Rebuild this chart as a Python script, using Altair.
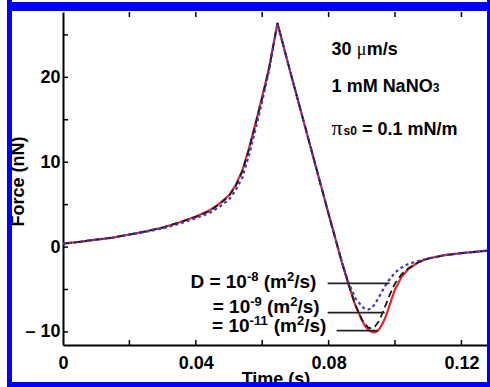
import altair as alt
import pandas as pd

# ---------------- data ----------------
t_red = [0, 0.005, 0.01, 0.015, 0.02, 0.025, 0.03, 0.035, 0.04, 0.044, 0.047, 0.05, 0.052,
         0.054, 0.056, 0.058, 0.060, 0.062, 0.0646, 0.068, 0.072, 0.076, 0.080, 0.084, 0.086,
         0.088, 0.090, 0.091, 0.092, 0.093, 0.094, 0.095, 0.096, 0.097, 0.098, 0.099, 0.100,
         0.102, 0.104, 0.107, 0.110, 0.115, 0.120, 0.128]
f_red = [0.4, 0.62, 0.88, 1.12, 1.48, 1.85, 2.3, 2.9, 3.6, 4.3, 5.1, 6.1, 7.3,
         9.0, 11.6, 14.6, 17.7, 21.0, 26.4, 21.3, 15.5, 9.7, 3.9, -1.8, -4.4,
         -6.8, -8.6, -9.3, -9.75, -10.0, -10.05, -9.8, -9.2, -8.4, -7.3, -6.1, -5.0,
         -3.5, -2.6, -1.8, -1.35, -0.95, -0.72, -0.42]

t_black = [0, 0.005, 0.01, 0.015, 0.02, 0.025, 0.03, 0.035, 0.04, 0.044, 0.047, 0.05, 0.052,
           0.054, 0.056, 0.058, 0.060, 0.062, 0.0646, 0.068, 0.072, 0.076, 0.080, 0.084, 0.086,
           0.088, 0.090, 0.091, 0.092, 0.093, 0.094, 0.095, 0.096, 0.097, 0.098, 0.099, 0.100,
           0.102, 0.104, 0.107, 0.110, 0.115, 0.120, 0.128]
f_black = [0.4, 0.62, 0.88, 1.12, 1.48, 1.85, 2.3, 2.9, 3.55, 4.2, 5.0, 6.0, 7.2,
           8.9, 11.5, 14.5, 17.6, 20.9, 26.4, 21.3, 15.5, 9.7, 3.9, -1.8, -4.4,
           -6.8, -8.5, -9.1, -9.5, -9.6, -9.35, -8.8, -8.0, -7.0, -6.0, -5.1, -4.3,
           -3.2, -2.5, -1.8, -1.35, -0.95, -0.72, -0.42]

t_blue = [0, 0.005, 0.01, 0.015, 0.02, 0.025, 0.03, 0.035, 0.04, 0.044, 0.047, 0.05, 0.052,
          0.054, 0.056, 0.058, 0.060, 0.062, 0.0646, 0.068, 0.072, 0.076, 0.080, 0.084, 0.086,
          0.088, 0.090, 0.091, 0.092, 0.093, 0.094, 0.095, 0.096, 0.097, 0.098, 0.100,
          0.102, 0.104, 0.107, 0.110, 0.115, 0.120, 0.128]
f_blue = [0.4, 0.62, 0.88, 1.12, 1.45, 1.8, 2.2, 2.75, 3.4, 4.0, 4.7, 5.6, 6.7,
          8.2, 10.8, 13.9, 17.2, 20.7, 26.3, 21.3, 15.5, 9.7, 3.9, -1.8, -4.2,
          -6.0, -7.0, -7.3, -7.35, -7.2, -6.7, -6.0, -5.3, -4.6, -4.0, -3.0,
          -2.4, -2.0, -1.65, -1.35, -0.95, -0.72, -0.42]

x_tick_labels = [0, 0.04, 0.08, 0.12]
x_minor_ticks = [0.02, 0.04, 0.06, 0.08, 0.10, 0.12]
y_tick_labels = [-10, 0, 10, 20]
y_minor_ticks = [-10, -5, 0, 5, 10, 15, 20, 25]

# legend (D values) rows: text anchor (right edge) and leader lines
legend_exp = ["-8", "-9", "-11"]
legend_lead = ["D = 10", "= 10", "= 10"]
legend_text_t = [0.0763, 0.0773, 0.0793]
legend_text_f = [-4.86, -7.80, -9.97]
leader_t0 = [0.0797, 0.0797, 0.0824]
leader_t1 = [0.0984, 0.0969, 0.0948]
leader_f = [-4.27, -7.73, -9.85]

# top-right annotations
ann_t = 0.0809
ann_f = [22.64, 18.28, 13.2]

# ---------------- layout ----------------
W, H = 425, 333
XMAX = 0.128
YMIN, YMAX = -11.54, 27.70
FONT = "Liberation Sans"
xs = alt.Scale(domain=[0, XMAX], nice=False, zero=False)
ys = alt.Scale(domain=[YMIN, YMAX], nice=False, zero=False)

AW = {' ': 278, '(': 333, ')': 333, '/': 278, '-': 333, '=': 584, '.': 278,
      'D': 722, 'm': 889, 's': 556, 'N': 722, 'M': 833, 'a': 556, 'O': 778}


def tw(s, size):
    return sum(AW.get(c, 556) for c in s) / 1000.0 * size


axis_x = alt.Axis(values=x_tick_labels, grid=False, tickSize=0, domainColor="black",
                  domainWidth=2, labelFont=FONT, labelFontWeight="bold", labelFontSize=18,
                  labelColor="black", labelPadding=9, labelFlush=False,
                  labelExpr="datum.value == 0 ? '0' : format(datum.value, '.2f')",
                  title="Time (s)", titleFont=FONT, titleFontWeight="bold", titleFontSize=18,
                  titleColor="black", titleX=W / 2, titleY=39, titleBaseline="alphabetic",
                  titleAlign="center")
axis_y = alt.Axis(values=y_tick_labels, grid=False, tickSize=0, domainColor="black",
                  domainWidth=2, labelFont=FONT, labelFontWeight="bold", labelFontSize=18,
                  labelColor="black", labelPadding=3, labelFlush=False,
                  labelExpr="datum.value < 0 ? '\u2013 ' + format(-datum.value, 'd') : format(datum.value, 'd')",
                  title="Force (nN)", titleFont=FONT, titleFontWeight="bold", titleFontSize=18,
                  titleColor="black", titleAngle=270, titleX=-40, titleY=169,
                  titleBaseline="alphabetic", titleAlign="center")

X = lambda f: alt.X(f, scale=xs, axis=axis_x)
Y = lambda f: alt.Y(f, scale=ys, axis=axis_y)


def curve(ts, fs, **kw):
    return alt.Chart(pd.DataFrame({"t": ts, "F": fs})).mark_line(**kw).encode(
        x=X("t:Q"), y=Y("F:Q"), order="t:Q")


red = curve(t_red, f_red, color="#e3242e", strokeWidth=2.2)
black = curve(t_black, f_black, color="#1a1a1a", strokeWidth=1.8, strokeDash=[7, 4])
blue = curve(t_blue, f_blue, color="#3c3cb4", strokeWidth=2.2, strokeDash=[3, 3])

# inward ticks
yt = alt.Chart(pd.DataFrame({"F": y_minor_ticks})).mark_rule(color="black", strokeWidth=1.5).encode(
    y=Y("F:Q"), x=alt.value(0), x2=alt.value(5))
xtb = alt.Chart(pd.DataFrame({"t": x_minor_ticks})).mark_rule(color="black", strokeWidth=1.5).encode(
    x=X("t:Q"), y=alt.value(H), y2=alt.value(H - 5))
xtt = alt.Chart(pd.DataFrame({"t": x_minor_ticks})).mark_rule(color="black", strokeWidth=1.5).encode(
    x=X("t:Q"), y=alt.value(0), y2=alt.value(5))

layers = [red, black, blue, yt, xtb, xtt]

# leader lines
lead_df = pd.DataFrame({"t": leader_t0, "t1": leader_t1, "F": leader_f})
layers.append(alt.Chart(lead_df).mark_rule(color="#222222", strokeWidth=1.8).encode(
    x=X("t:Q"), x2="t1:Q", y=Y("F:Q")))


def text_pieces(t, f, pieces, right_align=False):
    """pieces: (text, size, font, weight, dy, advance override or None)"""
    total = sum(p[5] if p[5] is not None else tw(p[0], p[1]) for p in pieces)
    off = -total if right_align else 0.0
    out = []
    src = pd.DataFrame({"t": [t], "F": [f]})
    for txt, size, font, weight, dy, adv in pieces:
        stripped = txt.lstrip(" ")
        lead = (len(txt) - len(stripped)) * 0.278 * size
        out.append(alt.Chart(src).mark_text(
            text=stripped, align="left", baseline="alphabetic", dx=off + lead, dy=dy,
            fontSize=size, font=font, fontWeight=weight, color="black").encode(
            x=X("t:Q"), y=Y("F:Q")))
        off += adv if adv is not None else tw(txt, size)
    return out


MAIN, SUP = 19, 13
for lead, ex, t, f in zip(legend_lead, legend_exp, legend_text_t, legend_text_f):
    pcs = [(lead, MAIN, FONT, "bold", 0, None),
           (ex, SUP, FONT, "bold", -7, None),
           (" (m", MAIN, FONT, "bold", 0, None),
           ("2", SUP, FONT, "bold", -7, None),
           ("/s)", MAIN, FONT, "bold", 0, None)]
    layers += text_pieces(t, f, pcs, right_align=True)

layers += text_pieces(ann_t, ann_f[0], [("30 ", 18, FONT, "bold", 0, None),
                                         ("\u03bc", 18, "Liberation Serif", "normal", 0, 10),
                                         ("m/s", 18, FONT, "bold", 0, None)])
layers += text_pieces(ann_t, ann_f[1], [("1 mM NaNO", 18, FONT, "bold", 0, None),
                                         ("3", 12, FONT, "bold", 0, None)])
layers += text_pieces(ann_t, ann_f[2], [("\u03c0", 22, "Liberation Serif", "normal", 0, 12),
                                         ("s0", 12, FONT, "bold", 0, None),
                                         (" = 0.1 mN/m", 18, FONT, "bold", 0, None)])

# blue frame around the figure
fdf = pd.DataFrame({"k": [0]})
for x1, x2, y1, y2 in [(-56, -51, -12, 376), (-56, 430, -10, -1),
                       (-56, 430, 370, 376), (424, 430, -12, 376)]:
    layers.append(alt.Chart(fdf).mark_rect(color="#0000ff").encode(
        x=alt.value(x1), x2=alt.value(x2), y=alt.value(y1), y2=alt.value(y2)))

chart = alt.layer(*layers).properties(
    width=W, height=H,
    padding={"left": 63, "top": 12, "right": 2, "bottom": 42},
    autosize=alt.AutoSizeParams(type="none"),
    background="white",
).configure_view(stroke=None)

chart.save("out.html", embed_options={"renderer": "svg", "actions": False})
